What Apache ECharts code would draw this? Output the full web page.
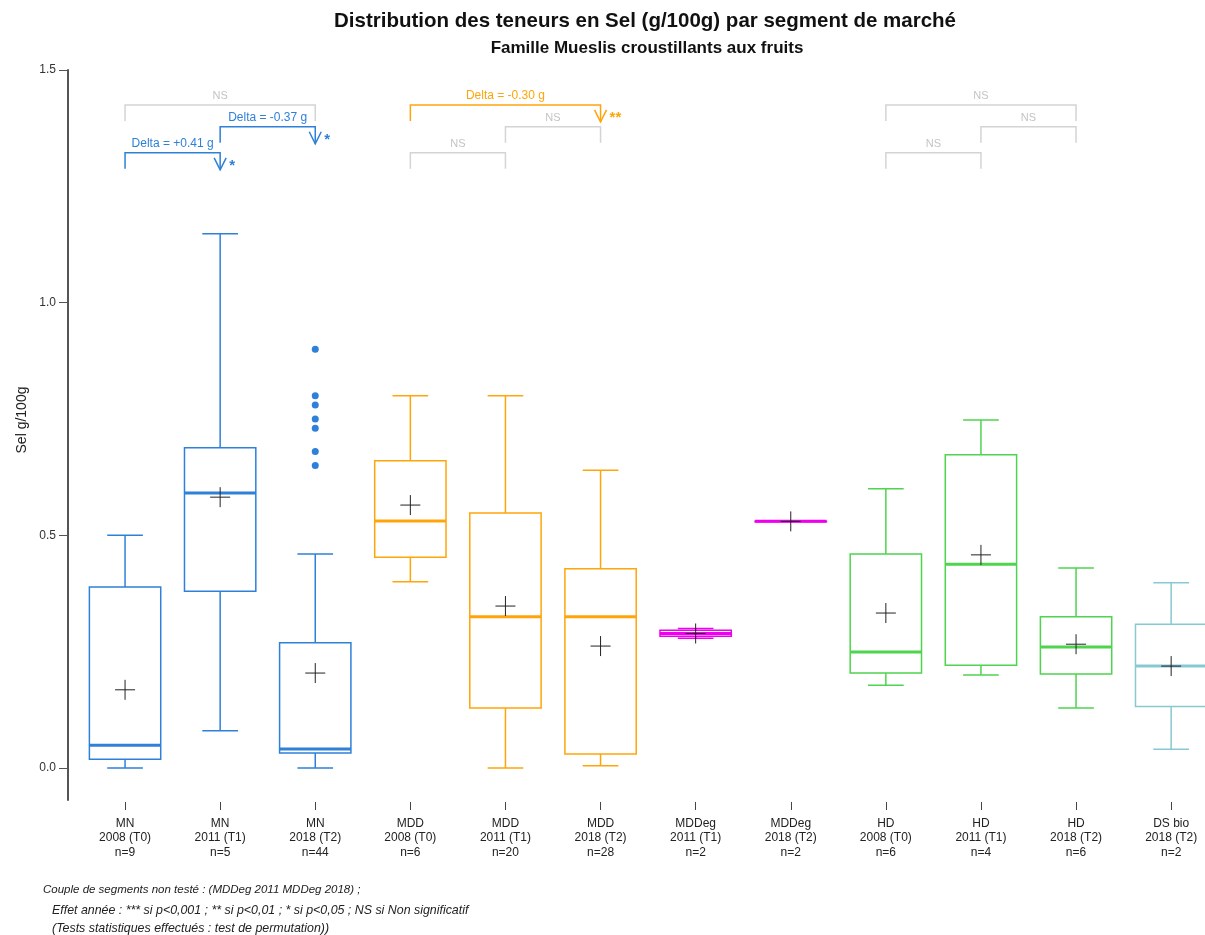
<!DOCTYPE html>
<html><head><meta charset="utf-8">
<script src="https://cdn.jsdelivr.net/npm/echarts@6/dist/echarts.min.js"></script>
<style>html,body{margin:0;padding:0;background:#fff;overflow:hidden;width:1205px;height:935px}#c{width:1225px;height:935px}</style>
</head><body><div id="c"></div>
<script>
// ---- data ----
const segments = ['MN','MN','MN','MDD','MDD','MDD','MDDeg','MDDeg','HD','HD','HD','DS bio'];
const periods = ['2008 (T0)','2011 (T1)','2018 (T2)','2008 (T0)','2011 (T1)','2018 (T2)','2011 (T1)','2018 (T2)','2008 (T0)','2011 (T1)','2018 (T2)','2018 (T2)'];
const counts = [9,5,44,6,20,28,2,2,6,4,6,2];
const lowWhisker  = [0.000,0.080,0.000,0.400,0.000,0.005,0.279,0.530,0.178,0.200,0.129,0.040];
const q1          = [0.019,0.380,0.032,0.453,0.129,0.030,0.283,0.530,0.204,0.221,0.202,0.132];
const medians     = [0.049,0.591,0.041,0.531,0.325,0.325,0.289,0.530,0.249,0.438,0.260,0.219];
const q3          = [0.389,0.688,0.269,0.660,0.548,0.428,0.296,0.530,0.460,0.673,0.325,0.309];
const highWhisker = [0.500,1.148,0.460,0.800,0.800,0.640,0.300,0.530,0.600,0.748,0.430,0.398];
const means       = [0.168,0.582,0.204,0.565,0.348,0.262,0.289,0.530,0.333,0.458,0.266,0.219];
const outlierIndex  = [2,2,2,2,2,2,2];
const outlierValues = [0.90,0.80,0.78,0.75,0.73,0.68,0.65];
const yTicks = [0, 0.5, 1.0, 1.5];
// pairwise comparisons (category indices)
const compFrom  = [0,1,0, 3,4,3, 8,9,8];
const compTo    = [1,2,2, 4,5,5, 9,10,10];
const compLevel = [3,2,1, 3,2,1, 3,2,1];
const compLabel = ['Delta = +0.41 g','Delta = -0.37 g','NS','NS','NS','Delta = -0.30 g','NS','NS','NS'];
const compStars = ['*','*','','','','**','','',''];
const footnotes = [
  'Couple de segments non testé : (MDDeg 2011 MDDeg 2018) ;',
  'Effet année : *** si p<0,001 ; ** si p<0,01 ; * si p<0,05 ; NS si Non significatif',
  '(Tests statistiques effectués : test de permutation))'
];

// ---- styles / layout ----
const FONT = '"Liberation Sans", Arial, sans-serif';
const SEG_COLOR = {'MN':'#2f80d8','MDD':'#ffa50a','MDDeg':'#ee00ee','HD':'#4ed44e','DS bio':'#88c9d1'};
const NS_COLOR = '#d4d4d4';
const NS_TEXT = '#c4c4c4';
const LEVEL_Y = {1:1.425, 2:1.378, 3:1.322};
const LEG = 16;

const chart = echarts.init(document.getElementById('c'));
const catLabels = segments.map((s,i)=> s + '\n' + periods[i] + '\nn=' + counts[i]);

function boxRender(params, api){
  const i = api.value(0);
  const band = api.size([1,0])[0];
  const bw = band*0.75;
  const color = SEG_COLOR[segments[i]];
  const x = api.coord([i, 0])[0];
  const yLo = api.coord([i, api.value(1)])[1];
  const yQ1 = api.coord([i, api.value(2)])[1];
  const yMed = api.coord([i, api.value(3)])[1];
  const yQ3 = api.coord([i, api.value(4)])[1];
  const yHi = api.coord([i, api.value(5)])[1];
  const ls = {stroke: color, lineWidth: 1.5, fill: null};
  return {type:'group', children:[
    {type:'line', shape:{x1:x,y1:yHi,x2:x,y2:yQ3}, style:ls},
    {type:'line', shape:{x1:x,y1:yQ1,x2:x,y2:yLo}, style:ls},
    {type:'line', shape:{x1:x-bw/4,y1:yHi,x2:x+bw/4,y2:yHi}, style:ls},
    {type:'line', shape:{x1:x-bw/4,y1:yLo,x2:x+bw/4,y2:yLo}, style:ls},
    {type:'rect', shape:{x:x-bw/2,y:yQ3,width:bw,height:Math.max(yQ1-yQ3,0.5)}, style:{stroke:color,lineWidth:1.5,fill:null}},
    {type:'line', shape:{x1:x-bw/2,y1:yMed,x2:x+bw/2,y2:yMed}, style:{stroke:color,lineWidth:3}}
  ]};
}

function meanRender(params, api){
  const p = api.coord([api.value(0), api.value(1)]);
  const h = 10;
  const st = {stroke:'#222', lineWidth:1};
  return {type:'group', children:[
    {type:'line', shape:{x1:p[0]-h,y1:p[1],x2:p[0]+h,y2:p[1]}, style:st},
    {type:'line', shape:{x1:p[0],y1:p[1]-h,x2:p[0],y2:p[1]+h}, style:st}
  ]};
}

function bracketRender(params, api){
  const k = params.dataIndex;
  const a = api.coord([api.value(0), api.value(2)]);
  const b = api.coord([api.value(1), api.value(2)]);
  const ns = compLabel[k] === 'NS';
  const color = ns ? NS_COLOR : SEG_COLOR[segments[compFrom[k]]];
  const st = {stroke: color, lineWidth: 1.5, fill: null};
  const y = a[1];
  const yEnd = y + LEG + (ns ? 0 : 1);
  const children = [
    {type:'polyline', shape:{points:[[a[0],y+LEG],[a[0],y],[b[0],y],[b[0],yEnd]]}, style:st},
    {type:'text', x:(a[0]+b[0])/2, y:y-3, style:{text:compLabel[k], fill: ns ? NS_TEXT : color,
      fontSize: ns ? 11 : 12, fontFamily:FONT, align:'center', verticalAlign:'bottom'}}
  ];
  if (!ns) {
    children.push({type:'polyline', shape:{points:[[b[0]-6,yEnd-12],[b[0],yEnd],[b[0]+6,yEnd-12]]}, style:st});
    children.push({type:'text', x:b[0]+9, y:yEnd-4, style:{text:compStars[k], fill:color,
      fontSize:15, fontWeight:'bold', fontFamily:FONT, align:'left', verticalAlign:'middle'}});
  }
  return {type:'group', children};
}

const option = {
  animation:false,
  backgroundColor:'#fff',
  textStyle:{fontFamily:FONT},
  grid:{left:77.5, top:70, width:1141.2, height:730, containLabel:false},
  xAxis:{
    type:'category', data:catLabels, boundaryGap:true, offset:2,
    axisLine:{show:false, onZero:false},
    axisTick:{show:true, alignWithLabel:true, length:8, lineStyle:{color:'#444', width:1}},
    axisLabel:{interval:0, margin:14, fontSize:12, lineHeight:14.5, color:'#222', fontFamily:FONT},
    splitLine:{show:false}
  },
  yAxis:{
    type:'value', min:-0.0688, max:1.5, offset:9.5,
    axisLine:{show:true, lineStyle:{color:'#555', width:2}},
    axisTick:{show:true, length:9, customValues:yTicks, lineStyle:{color:'#555', width:1}},
    axisLabel:{customValues:yTicks, formatter:v=>Number(v).toFixed(1), fontSize:12, color:'#333', margin:12, fontFamily:FONT},
    splitLine:{show:false}
  },
  graphic:[
    {type:'text', x:645, y:21, style:{text:'Distribution des teneurs en Sel (g/100g) par segment de marché',
      fontSize:20.5, fontWeight:'bold', fontFamily:FONT, fill:'#111', align:'center', verticalAlign:'middle'}},
    {type:'text', x:647, y:48, style:{text:'Famille Mueslis croustillants aux fruits',
      fontSize:17, fontWeight:'bold', fontFamily:FONT, fill:'#111', align:'center', verticalAlign:'middle'}},
    {type:'text', x:22, y:420, rotation:Math.PI/2, style:{text:'Sel g/100g', fontSize:14, fontFamily:FONT,
      fill:'#222', align:'center', verticalAlign:'middle'}},
    {type:'text', x:43, y:890, style:{text:footnotes[0], fontSize:11.5, fontStyle:'italic', fontFamily:FONT, fill:'#222', verticalAlign:'middle'}},
    {type:'text', x:52, y:911, style:{text:footnotes[1], fontSize:12.4, fontStyle:'italic', fontFamily:FONT, fill:'#222', verticalAlign:'middle'}},
    {type:'text', x:52, y:929, style:{text:footnotes[2], fontSize:12.4, fontStyle:'italic', fontFamily:FONT, fill:'#222', verticalAlign:'middle'}}
  ],
  series:[
    {type:'custom', name:'box', renderItem:boxRender, clip:false,
     encode:{x:0, y:[1,2,3,4,5]},
     data: segments.map((s,i)=>[i, lowWhisker[i], q1[i], medians[i], q3[i], highWhisker[i]])},
    {type:'scatter', name:'outliers', symbol:'circle', symbolSize:7, itemStyle:{color:SEG_COLOR['MN'], opacity:1},
     data: outlierIndex.map((c,i)=>[c, outlierValues[i]])},
    {type:'custom', name:'mean', renderItem:meanRender, encode:{x:0,y:1},
     data: means.map((m,i)=>[i, m]), z:5},
    {type:'custom', name:'brackets', renderItem:bracketRender, clip:false,
     encode:{x:[0,1], y:2},
     data: compFrom.map((f,k)=>[f, compTo[k], LEVEL_Y[compLevel[k]]])}
  ]
};
chart.setOption(option);
</script>
</body></html>
